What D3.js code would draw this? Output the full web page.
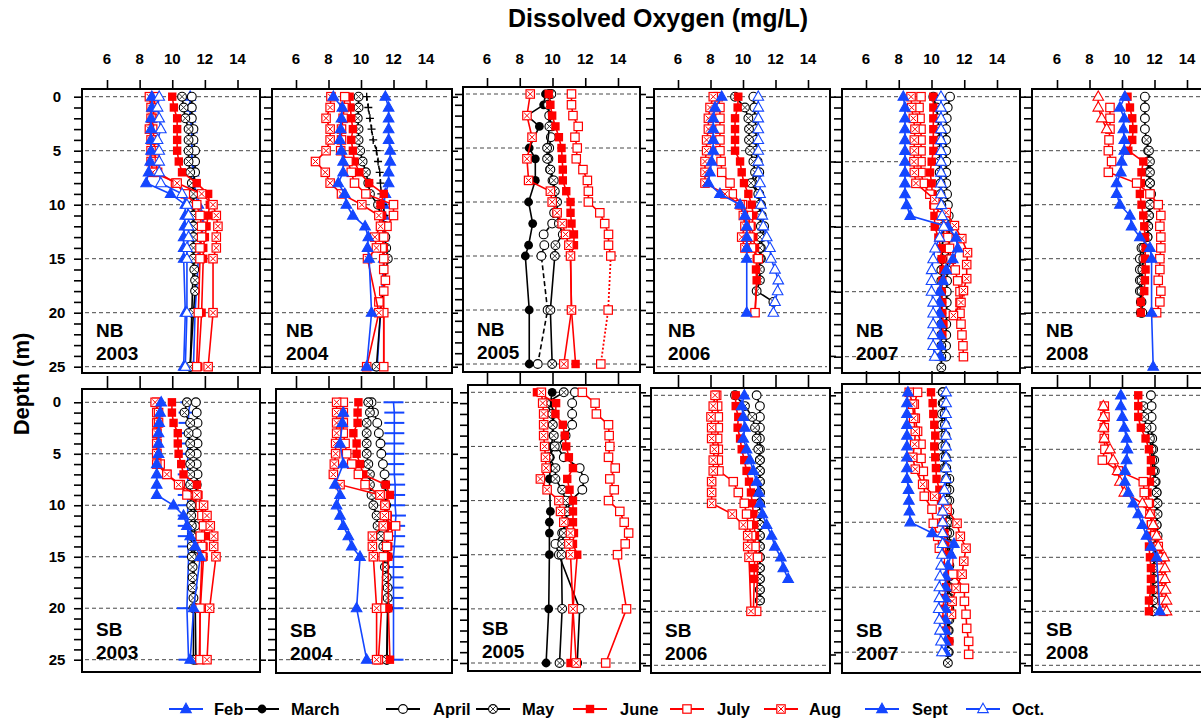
<!DOCTYPE html>
<html><head><meta charset="utf-8">
<script src="https://cdn.jsdelivr.net/npm/d3@7"></script>
<style>body{margin:0;background:#fff}svg{display:block}text{font-family:"Liberation Sans",Arial,sans-serif}</style>
</head><body><svg id="c" width="1201" height="721"></svg>
<script>
// ---------- categories / ticks ----------
const legendMonths = ["Feb","March","April","May","June","July","Aug","Sept","Oct."];
const xTickValues = [6,8,10,12,14];
const depthLabels = [0,5,10,15,20,25];
const titleText = "Dissolved Oxygen (mg/L)";
const yTitleText = "Depth (m)";

// ---------- depth lists (m) ----------
const DEP_STD = [0,1,2,3,4,5,6,7,8,9,10,11,12,13,14,15,20,25];
const DEP_0_18_20_25 = [0,1,2,3,4,5,6,7,8,9,10,11,12,13,14,15,16,17,18,20,25];
const DEP_0_20_25 = [0,1,2,3,4,5,6,7,8,9,10,11,12,13,14,15,16,17,18,19,20,25];
const DEP_0_12 = [0,1,2,3,4,5,6,7,8,9,10,11,12];
const DEP_0_14 = [0,1,2,3,4,5,6,7,8,9,10,11,12,13,14];
const DEP_0_15 = [0,1,2,3,4,5,6,7,8,9,10,11,12,13,14,15];
const DEP_0_15_20 = [0,1,2,3,4,5,6,7,8,9,10,11,12,13,14,15,20];
const DEP_0_17 = [0,1,2,3,4,5,6,7,8,9,10,11,12,13,14,15,16,17];
const DEP_0_17_20 = [0,1,2,3,4,5,6,7,8,9,10,11,12,13,14,15,16,17,20];
const DEP_0_19 = [0,1,2,3,4,5,6,7,8,9,10,11,12,13,14,15,16,17,18,19];
const DEP_0_20 = [0,1,2,3,4,5,6,7,8,9,10,11,12,13,14,15,16,17,18,19,20];
const DEP_0_22 = [0,1,2,3,4,5,6,7,8,9,10,11,12,13,14,15,16,17,18,19,20,21,22];
const DEP_0_23 = [0,1,2,3,4,5,6,7,8,9,10,11,12,13,14,15,16,17,18,19,20,21,22,23];
const DEP_0_24 = [0,1,2,3,4,5,6,7,8,9,10,11,12,13,14,15,16,17,18,19,20,21,22,23,24];
const DEP_0_25 = [0,1,2,3,4,5,6,7,8,9,10,11,12,13,14,15,16,17,18,19,20,21,22,23,24,25];
const DEP_1_20 = [1,2,3,4,5,6,7,8,9,10,11,12,13,14,15,16,17,18,19,20];
const DEP_4_20 = [4,5,6,7,8,9,10,11,12,13,14,15,16,17,18,19,20];

// ---------- DO profiles (mg/L) ----------
const nb2003 = [
 {m:"Feb", d:DEP_STD, v:[11.1,11.1,11.1,11.2,11.2,11.2,11.2,11.3,11.3,11.4,11.6,11.8,11.9,11.8,11.7,11.6,11.4,11.3]},
 {m:"April", d:DEP_STD, v:[11.2,11.2,11.2,11.3,11.3,11.4,11.4,11.4,11.3,11.3,11.3,11.3,11.3,11.3,11.3,11.3,11.2,11.1]},
 {m:"May", d:DEP_0_18_20_25, v:[10.6,10.7,10.8,11.0,11.0,11.0,11.0,11.1,11.2,11.3,11.3,11.3,11.3,11.3,11.3,11.3,11.35,11.4,11.4,11.3,11.1]},
 {m:"June", d:DEP_STD, v:[10.0,10.1,10.3,10.3,10.3,10.3,10.4,10.6,11.5,12.2,12.3,12.2,12.1,12.0,11.9,11.9,11.8,11.6]},
 {m:"July", d:DEP_STD, v:[8.9,8.9,8.8,8.8,8.9,8.9,9.0,9.1,10.2,10.8,11.5,11.7,11.8,11.8,11.7,11.7,11.6,11.5]},
 {m:"Aug", d:DEP_STD, v:[8.6,8.7,8.7,8.6,8.7,8.7,8.7,8.8,10.3,11.8,12.5,12.7,12.8,12.7,12.7,12.5,12.5,12.2]},
 {m:"Sept", d:DEP_STD, v:[8.75,8.75,8.7,8.7,8.7,8.7,8.65,8.55,8.4,9.9,10.8,10.8,10.75,10.7,10.7,10.7,10.8,10.7]},
 {m:"Oct.", d:DEP_STD, v:[9.2,9.1,9.2,9.3,9.1,9.2,9.2,9.2,9.3,10.6,10.9,11.0,11.0,11.0,10.9,10.9,10.9,10.8]}
];
const nb2004 = [
 {m:"Feb", d:DEP_STD, v:[11.5,11.7,11.7,11.7,11.7,11.8,11.8,11.7,11.7,11.5,11.4,11.4,11.4,11.4,11.4,11.4,11.2,11.0]},
 {m:"extraPlus", d:DEP_0_12, v:[10.35,10.45,10.55,10.65,10.75,10.95,11.05,11.15,11.2,11.25,11.35,11.45,11.5]},
 {m:"May", d:DEP_STD, v:[9.85,9.85,9.8,9.85,9.85,9.95,10.1,10.3,10.45,10.55,11.05,11.2,11.5,11.5,11.55,11.65,11.2,10.95]},
 {m:"June", d:DEP_STD, v:[9.3,9.35,9.4,9.5,9.4,9.5,9.6,9.9,10.5,11.4,11.2,11.3,11.3,11.4,11.4,11.4,11.4,11.4]},
 {m:"July", d:DEP_0_20_25, v:[9.0,8.95,8.9,8.8,8.8,8.75,9.2,9.4,9.6,10.3,12.0,12.0,11.6,11.4,11.3,11.4,11.4,11.5,11.4,11.1,11.4,11.4]},
 {m:"Aug", d:DEP_STD, v:[8.15,8.1,7.85,8.1,8.1,7.85,7.2,7.8,8.1,8.8,10.05,11.1,11.2,10.85,10.95,10.4,11.1,10.35]},
 {m:"Sept", d:DEP_STD, v:[8.3,8.85,8.8,8.75,8.7,8.8,8.9,8.9,8.6,9.0,9.1,9.5,10.25,10.45,10.4,10.5,10.65,10.35]}
];
const nb2005 = [
 {m:"March", d:[0,1,2,3,5,6,8,10,12,14,15,20,25], v:[9.57,9.46,8.44,9.2,8.58,8.95,8.95,8.54,8.79,8.54,8.34,8.58,8.58]},
 {m:"April", d:DEP_STD, v:[9.8,9.75,9.8,9.95,9.9,9.8,9.75,9.85,10.0,10.1,10.15,10.1,9.98,9.46,9.5,9.32,9.7,9.1]},
 {m:"May", d:[0,1,3,5,6,7,8,9,10,11,12,13,14,15,20,25], v:[9.93,9.73,9.81,9.67,9.67,9.87,10.08,10.14,10.28,10.28,10.39,10.63,10.18,10.14,9.87,9.98]},
 {m:"June", d:DEP_STD, v:[9.77,9.87,9.98,10.18,10.39,10.55,10.59,10.63,10.63,10.84,11.1,11.1,11.16,11.31,11.31,11.1,11.16,11.41]},
 {m:"July", d:DEP_STD, v:[11.16,11.16,11.25,11.57,11.37,11.51,11.45,11.86,12.13,12.19,12.19,12.89,13.19,13.42,13.42,13.56,13.4,12.95]},
 {m:"Aug", d:[0,2,4,6,8,9,10,11,12,13,14,15,20,25], v:[8.64,8.44,8.75,8.44,8.54,9.87,9.98,10.28,10.59,10.8,11.0,11.1,11.16,10.69]}
];
const nb2006 = [
 {m:"April", d:DEP_0_15, v:[10.64,10.7,10.75,10.8,10.8,10.8,10.9,11.0,10.6,11.0,11.1,11.15,11.3,11.2,11.1,11.1]},
 {m:"May", d:DEP_0_19, v:[9.51,10.12,10.33,10.37,10.37,10.43,10.64,10.74,10.49,10.94,11.04,11.04,11.1,11.04,11.04,11.04,11.04,11.04,10.84,11.87]},
 {m:"June", d:DEP_0_17_20, v:[9.71,9.67,9.51,9.51,9.51,9.51,9.82,9.92,10.06,10.33,10.53,10.64,10.53,10.64,10.74,10.84,10.8,10.84,10.74]},
 {m:"July", d:DEP_0_15_20, v:[8.48,8.58,8.58,8.58,8.58,8.58,8.65,8.69,9.2,9.34,9.96,10.33,10.43,10.43,10.53,10.94,10.74]},
 {m:"Aug", d:DEP_0_14, v:[8.17,7.97,7.87,7.87,7.76,7.76,7.66,7.66,7.66,8.89,9.82,10.02,10.12,9.92,10.12]},
 {m:"Sept", d:DEP_0_15_20, v:[8.69,8.28,8.17,8.17,8.17,8.17,8.07,7.97,7.87,8.58,9.82,10.12,10.23,10.23,10.23,10.23,10.23]},
 {m:"Oct.", d:DEP_0_20, v:[10.94,10.94,10.94,10.94,10.94,10.94,10.94,10.94,11.05,11.05,11.11,11.19,11.25,11.46,11.66,11.72,11.97,12.17,12.13,11.97,11.87]}
];
const nb2007 = [
 {m:"April", d:DEP_0_24, v:[11.13,10.99,10.93,10.89,10.89,10.89,10.9,10.9,10.9,10.95,11.0,11.05,11.05,11.1,11.05,11.0,10.95,10.95,10.93,10.93,10.93,10.9,10.9,10.89,10.89]},
 {m:"May", d:DEP_0_25, v:[10.11,10.3,10.4,10.45,10.5,10.5,10.5,10.5,10.55,10.55,10.6,10.65,10.7,10.7,10.65,10.65,10.6,10.6,10.6,10.6,10.6,10.6,10.6,10.6,10.6,10.6]},
 {m:"June", d:DEP_0_22, v:[10.11,10.11,10.11,10.11,10.11,10.11,10.01,9.91,10.01,10.05,10.11,10.18,10.2,10.42,10.58,10.62,10.73,10.66,10.62,10.66,10.66,10.73,10.66]},
 {m:"July", d:DEP_0_24, v:[9.36,9.24,9.3,9.36,9.36,9.36,9.36,9.36,9.5,9.9,10.2,10.6,10.9,11.0,11.1,11.2,11.45,11.6,11.74,11.74,11.74,11.8,11.86,11.92,11.95]},
 {m:"Aug", d:[0,1,2,3,4,5,6,7,8,9.5,10.7,11.9,13.1,14.4,15.5,16.8,17.9,19,20.2], v:[8.75,8.79,8.89,8.99,8.95,8.95,8.93,8.95,9.05,10.2,10.9,11.4,11.85,12.2,12.15,12.15,11.95,11.8,11.34]},
 {m:"Sept", d:DEP_0_24, v:[8.28,8.38,8.38,8.38,8.38,8.38,8.38,8.38,8.38,8.38,8.48,8.7,11.0,11.5,11.6,11.3,10.9,10.7,10.5,10.5,10.5,10.55,10.55,10.55,10.55]},
 {m:"Oct.", d:DEP_0_24, v:[10.58,10.58,10.58,10.58,10.58,10.58,10.58,10.58,10.58,10.58,10.6,10.65,10.75,10.5,10.22,10.1,10.01,10.0,10.0,10.1,10.1,10.1,10.1,10.1,10.2]}
];
const nb2008 = [
 {m:"April", d:DEP_0_20, v:[11.41,11.41,11.41,11.41,11.51,11.61,11.61,11.61,11.72,11.78,11.72,11.66,11.61,11.57,11.2,11.1,11.1,11.1,11.1,11.16,11.16]},
 {m:"May", d:DEP_4_20, v:[11.51,11.66,11.72,11.72,11.72,11.78,11.72,11.66,11.61,11.57,11.31,11.31,11.25,11.2,11.2,11.2,11.25]},
 {m:"June", d:DEP_0_20, v:[10.34,10.49,10.63,10.69,10.63,10.39,11.31,11.2,11.16,11.1,11.2,11.31,11.37,11.41,11.45,11.41,11.45,11.41,11.37,11.16,11.16]},
 {m:"July", d:DEP_1_20, v:[9.26,9.26,9.26,9.2,9.16,9.36,9.16,10.9,11.72,12.23,12.39,12.33,12.39,12.39,12.33,12.33,12.23,12.39,12.33,12.13]},
 {m:"extraTri", d:[0,1,2,3], v:[8.54,8.54,8.75,9.06]},
 {m:"Sept", d:DEP_STD, v:[10.18,9.87,10.14,10.08,10.14,10.14,9.98,9.93,9.67,9.67,9.87,10.49,10.59,11.1,11.72,11.82,11.82,11.92]}
];
const sb2003 = [
 {m:"Feb", d:DEP_STD, v:[11.1,11.0,11.0,11.0,10.95,10.95,10.95,10.95,10.95,10.95,10.95,10.95,10.95,10.95,10.95,11.0,10.9,11.0]},
 {m:"April", d:DEP_STD, v:[11.45,11.5,11.55,11.5,11.55,11.5,11.5,11.55,11.5,11.45,11.4,11.4,11.4,11.35,11.35,11.35,11.3,11.3]},
 {m:"May", d:DEP_0_20_25, v:[10.9,10.75,11.1,11.0,11.1,11.1,11.1,11.1,11.1,11.1,11.16,11.16,11.2,11.2,11.2,11.2,11.25,11.25,11.25,11.3,11.41,11.45]},
 {m:"June", d:DEP_STD, v:[9.98,9.98,10.08,10.34,10.34,10.39,10.55,10.69,11.51,11.61,11.82,11.92,11.92,12.02,11.92,11.92,11.72,11.66]},
 {m:"July", d:DEP_STD, v:[9.05,9.05,9.05,9.05,9.05,9.05,9.26,9.67,10.49,10.9,11.72,11.82,11.92,11.72,11.82,11.82,11.7,11.7]},
 {m:"Aug", d:DEP_STD, v:[8.95,9.16,9.16,9.05,9.05,9.05,9.05,9.67,10.39,11.51,11.92,12.13,12.33,12.54,12.54,12.68,12.29,12.13]},
 {m:"Sept", d:DEP_STD, v:[9.32,9.26,9.2,9.16,9.16,9.16,9.05,9.05,9.05,9.05,10.08,10.69,10.9,11.1,11.41,11.72,11.31,11.1]}
];
const sb2004 = [
 {m:"Feb", d:DEP_0_20_25, v:[12.0,12.05,12.05,12.05,12.05,12.05,12.05,12.05,12.1,12.1,12.1,12.15,12.1,12.1,12.05,12.0,12.0,12.0,12.0,12.0,12.0,12.0]},
 {m:"April", d:DEP_STD, v:[10.65,10.8,11.0,11.1,11.2,11.25,11.35,11.45,11.5,11.5,11.55,11.6,11.6,11.6,11.6,11.65,11.65,11.6]},
 {m:"May", d:DEP_0_20_25, v:[10.45,10.55,10.35,10.35,10.35,10.35,10.45,10.55,10.55,10.65,10.76,10.96,11.02,11.23,11.37,11.43,11.47,11.58,11.64,11.64,11.64,11.58]},
 {m:"June", d:DEP_STD, v:[9.84,9.79,9.79,9.53,9.73,9.73,9.94,10.14,11.52,11.78,11.48,11.64,11.68,11.68,11.68,11.68,11.68,11.78]},
 {m:"July", d:DEP_STD, v:[8.91,8.91,8.91,8.91,9.02,9.12,9.43,9.84,10.25,11.17,11.48,11.58,12.13,11.68,11.58,11.37,11.27,11.07]},
 {m:"Aug", d:DEP_STD, v:[8.5,8.5,8.5,8.5,8.44,8.44,8.36,8.3,8.71,11.17,11.48,11.44,11.37,10.7,10.7,10.76,10.96,10.96]},
 {m:"Sept", d:[1,2,4,6,8,9,10,11,12,13,14,15,20,25], v:[8.91,8.85,8.71,8.91,8.4,8.71,8.5,8.71,8.91,9.22,9.43,9.94,9.73,10.35]}
];
const sb2005 = [
 {m:"March", d:[0,1,2,3,4,5,6,7,8,11,12,13,15,20,25], v:[9.98,9.87,10.14,9.98,10.02,9.93,9.87,9.87,9.81,9.87,9.81,9.81,9.81,9.77,9.61]},
 {m:"April", d:DEP_STD, v:[11.37,11.2,11.2,11.2,10.8,10.28,10.69,11.66,11.92,11.82,11.1,10.9,10.8,10.59,10.18,10.39,11.66,11.51]},
 {m:"May", d:DEP_STD, v:[10.69,9.61,9.98,10.02,10.08,10.14,9.77,10.18,10.18,10.59,10.8,10.9,10.8,10.69,10.59,10.55,10.59,10.43]},
 {m:"June", d:DEP_STD, v:[9.05,10.22,10.18,10.63,10.75,10.84,11.0,11.25,10.9,11.04,11.25,11.25,11.25,11.31,11.25,11.51,11.25,11.1]},
 {m:"July", d:DEP_STD, v:[11.82,12.6,12.68,13.42,13.46,13.5,13.42,13.83,13.5,13.77,13.42,14.11,14.38,14.65,14.44,13.97,14.52,13.25]},
 {m:"Aug", d:DEP_STD, v:[9.32,9.4,9.46,9.46,9.46,9.52,9.57,9.61,9.26,9.67,10.39,10.49,10.69,11.1,11.0,11.1,11.25,11.45]}
];
const sb2006 = [
 {m:"April", d:DEP_0_19, v:[10.84,11.04,11.04,11.04,11.04,11.04,11.04,11.04,11.04,11.04,11.04,11.04,11.04,11.04,11.04,11.04,11.04,11.04,11.04,11.04]},
 {m:"May", d:DEP_0_19, v:[9.51,10.12,10.57,10.74,10.84,10.94,11.04,11.04,11.04,11.04,11.04,11.04,11.04,11.04,11.04,11.04,11.04,11.04,11.04,11.04]},
 {m:"June", d:DEP_0_17_20, v:[9.55,9.55,9.71,9.67,9.82,9.92,10.08,10.22,10.37,10.49,10.57,10.64,10.69,10.74,10.74,10.74,10.69,10.69,10.64]},
 {m:"July", d:DEP_0_15_20, v:[8.38,8.44,8.48,8.48,8.44,8.48,8.48,8.52,9.4,9.71,10.08,10.22,10.33,10.53,10.74,10.9,10.84]},
 {m:"Aug", d:DEP_0_15_20, v:[8.28,8.17,8.03,8.07,8.07,8.24,8.17,8.17,8.07,8.07,8.07,9.34,10.02,10.29,10.29,10.37,10.49]},
 {m:"Sept", d:DEP_0_17, v:[10.08,9.92,10.02,10.12,10.02,10.22,10.43,10.64,10.84,10.98,11.04,11.19,11.45,11.76,11.96,12.33,12.48,12.78]}
];
const sb2007 = [
 {m:"April", d:DEP_0_24, v:[10.68,10.68,10.64,10.64,10.64,10.68,10.72,10.79,11.09,11.09,11.09,11.09,11.09,11.09,11.09,11.09,11.09,11.09,11.09,11.09,11.09,11.09,11.05,11.05,11.05]},
 {m:"May", d:DEP_0_25, v:[10.7,10.75,10.8,10.82,10.85,10.85,10.87,10.9,10.9,10.92,10.95,10.95,10.95,10.95,10.98,10.98,11.0,11.0,11.0,11.0,11.0,11.0,11.0,11.0,11.0,11.0]},
 {m:"June", d:DEP_0_23, v:[9.97,10.07,10.11,10.17,10.23,10.17,10.23,10.27,10.31,10.48,10.58,10.68,10.68,10.79,10.85,10.89,10.93,10.99,10.89,10.79,10.68,10.72,10.89,11.09]},
 {m:"July", d:[0,1.1,2.4,3.6,4.8,6.1,7.3,8.5,9.6,10.8,12.1,13.3,14.4,15.6,16.8,18.1,19.3,20.5,21.8,23,24.2], v:[9.15,8.95,9.01,9.15,9.36,9.36,9.5,9.56,9.56,10.03,10.11,10.38,10.48,11.05,11.3,12.01,12.01,12.11,12.15,12.27,12.27]},
 {m:"Aug", d:[0,1.1,2.4,3.6,4.8,6.0,7.1,8.5,9.6,10.8,12.1,13.3,14.4,15.6,16.8,18.1,19.3,20.5], v:[8.64,8.85,8.91,9.01,8.97,8.85,9.01,9.46,10.19,10.95,11.56,11.76,12.11,11.97,11.87,11.5,11.26,11.22]},
 {m:"Sept", d:DEP_0_24, v:[8.56,8.5,8.5,8.5,8.5,8.5,8.5,8.5,8.5,8.6,8.62,8.65,8.7,10.04,11.37,11.2,11.0,10.86,10.86,10.86,10.86,10.86,10.86,10.86,10.86]},
 {m:"Oct.", d:DEP_0_24, v:[10.89,10.89,10.89,10.89,10.89,10.89,10.89,10.89,10.89,10.79,10.72,10.68,10.68,10.68,10.68,10.64,10.58,10.52,10.48,10.48,10.44,10.48,10.52,10.58,10.64]}
];
const sb2008 = [
 {m:"April", d:DEP_0_20, v:[11.78,11.82,11.82,11.82,11.86,11.92,11.98,12.02,12.07,12.13,12.13,12.13,12.13,12.07,12.02,11.98,11.94,11.94,11.92,11.92,11.92]},
 {m:"May", d:DEP_1_20, v:[11.31,11.37,11.51,11.72,11.82,11.86,11.92,12.02,12.13,12.19,12.19,12.13,12.19,12.13,12.02,11.98,11.92,11.92,11.92,11.92]},
 {m:"June", d:DEP_0_20, v:[11.0,11.0,11.0,11.16,11.45,11.66,11.78,11.78,11.72,11.57,11.72,11.78,11.78,11.78,11.66,11.72,11.78,11.78,11.78,11.66,11.66]},
 {m:"July", d:DEP_1_20, v:[8.91,8.95,8.91,8.91,8.95,8.79,9.77,11.31,11.37,11.61,11.72,11.82,12.02,12.23,12.43,12.43,12.48,12.43,12.48,12.54]},
 {m:"extraTri", d:DEP_1_20, v:[8.85,8.85,8.85,8.91,9.26,9.46,9.73,9.87,10.14,11.25,11.72,11.92,12.13,12.23,12.6,12.64,12.64,12.68,12.74,12.74]},
 {m:"Sept", d:DEP_0_15_20, v:[9.93,9.93,10.02,10.14,10.28,10.34,10.28,10.18,10.18,10.39,10.69,11.0,11.25,11.51,11.78,12.13,12.33]}
];

// ---------- panels ----------
const panels = [
 {site:"NB", year:"2003", data:nb2003},{site:"NB", year:"2004", data:nb2004},{site:"NB", year:"2005", data:nb2005},
 {site:"NB", year:"2006", data:nb2006},{site:"NB", year:"2007", data:nb2007},{site:"NB", year:"2008", data:nb2008},
 {site:"SB", year:"2003", data:sb2003},{site:"SB", year:"2004", data:sb2004},{site:"SB", year:"2005", data:sb2005},
 {site:"SB", year:"2006", data:sb2006},{site:"SB", year:"2007", data:sb2007},{site:"SB", year:"2008", data:sb2008}
];

// ---------- layout (pixels) ----------
const layout = [
 {box:[82,89,260,373], xr:[107,237.5], yr:[96.7,366.7], grid:5, rt:5},
 {box:[272,89,452,373], xr:[296,426], yr:[96.7,366.7], grid:5, rt:5},
 {box:[463,87,640,372], xr:[487,618], yr:[94,364], grid:5, rt:5},
 {box:[654,89,830,373], xr:[678,808], yr:[96.7,366.7], grid:5, rt:6},
 {box:[842,89,1020,373], xr:[866,997], yr:[96.7,367.5], grid:6, rt:5},
 {box:[1032,89,1215,373], xr:[1057,1187], yr:[96.7,366.7], grid:5, rt:5},
 {box:[82,389,260,672], xr:[107,237.5], yr:[402.3,659.7], grid:5, rt:5},
 {box:[276,389,452,673], xr:[296,426], yr:[402.3,659.7], grid:5, rt:5},
 {box:[468,385,640,671], xr:[487,618], yr:[392.3,663], grid:5, rt:5},
 {box:[651,388,830,673], xr:[678,808], yr:[395.3,665.3], grid:5, rt:6},
 {box:[842,384,1020,673], xr:[866,997], yr:[392.3,663], grid:6, rt:5},
 {box:[1032,388,1215,672], xr:[1057,1187], yr:[395.3,665.3], grid:5, rt:5}
];

const RED="#ff0000", BLUE="#1446ff", BLACK="#000000";
const styleOf = {
 "Feb":{color:BLUE, marker:"triF"},
 "March":{color:BLACK, marker:"cirF"},
 "April":{color:BLACK, marker:"cirO"},
 "May":{color:BLACK, marker:"cirX"},
 "June":{color:RED, marker:"sqF"},
 "July":{color:RED, marker:"sqO"},
 "Aug":{color:RED, marker:"sqX"},
 "Sept":{color:BLUE, marker:"triF"},
 "Oct.":{color:BLUE, marker:"triO"},
 "extraPlus":{color:BLACK, marker:"plus", dash:"4,3"},
 "extraTri":{color:RED, marker:"triO"}
};
const overrides = {
 "NB 2005|April":{dash:"5,3"},
 "NB 2005|July":{dottedBelow:15},
 "SB 2003|Feb":{marker:"bar"},
 "SB 2004|Feb":{marker:"bar"}
};

const svg = d3.select("#c");

function drawMarker(g, type, color, cx, cy){
 if(type==="triF"||type==="triO"){
  g.append("path").attr("d",`M${cx},${cy-5.8}L${cx+5.3},${cy+3.6}L${cx-5.3},${cy+3.6}Z`)
   .attr("fill",type==="triF"?color:"#fff").attr("stroke",color).attr("stroke-width",1.1);
 } else if(type==="cirF"){
  g.append("circle").attr("cx",cx).attr("cy",cy).attr("r",4.4).attr("fill",color);
 } else if(type==="cirO"||type==="cirX"){
  g.append("circle").attr("cx",cx).attr("cy",cy).attr("r",4.4).attr("fill","#fff").attr("stroke",color).attr("stroke-width",1.1);
  if(type==="cirX"){
   g.append("path").attr("d",`M${cx-3},${cy-3}L${cx+3},${cy+3}M${cx+3},${cy-3}L${cx-3},${cy+3}`).attr("stroke","#333").attr("stroke-width",1);
  }
 } else if(type==="sqF"){
  g.append("rect").attr("x",cx-4.2).attr("y",cy-4.2).attr("width",8.4).attr("height",8.4).attr("fill",color);
 } else if(type==="sqO"||type==="sqX"){
  g.append("rect").attr("x",cx-4.2).attr("y",cy-4.2).attr("width",8.4).attr("height",8.4).attr("fill","#fff").attr("stroke",color).attr("stroke-width",1.2);
  if(type==="sqX"){
   g.append("path").attr("d",`M${cx-2.8},${cy-2.8}L${cx+2.8},${cy+2.8}M${cx+2.8},${cy-2.8}L${cx-2.8},${cy+2.8}`).attr("stroke",color).attr("stroke-width",1);
  }
 } else if(type==="plus"){
  g.append("path").attr("d",`M${cx-4},${cy}L${cx+4},${cy}M${cx},${cy-4}L${cx},${cy+4}`).attr("stroke",color).attr("stroke-width",1.3);
 } else if(type==="bar"){
  g.append("path").attr("d",`M${cx-10},${cy}L${cx+10},${cy}`).attr("stroke",color).attr("stroke-width",2);
 }
}

panels.forEach((p,i)=>{
 const L = layout[i];
 const key = p.site+" "+p.year;
 const x = d3.scaleLinear().domain([6,14]).range(L.xr);
 const y = d3.scaleLinear().domain([0,25]).range(L.yr);
 const [bx0,by0,bx1,by1] = L.box;
 const g = svg.append("g");
 const gridD = L.grid===6 ? [0,6,12,18,24] : [0,5,10,15,20,25];
 g.selectAll("line.grid").data(gridD).join("line").attr("class","grid")
  .attr("x1",bx0+3).attr("x2",bx1-3).attr("y1",d=>y(d)).attr("y2",d=>y(d))
  .attr("stroke","#333").attr("stroke-width",0.9).attr("stroke-dasharray","4,3");
 p.data.forEach(s=>{
  const st = Object.assign({}, styleOf[s.m], overrides[key+"|"+s.m]||{});
  const n = Math.min(s.d.length, s.v.length);
  const pts = d3.range(n).map(k=>[s.v[k], s.d[k]]);
  const line = d3.line().x(d=>x(d[0])).y(d=>y(d[1]));
  const sg = g.append("g");
  if(st.dottedBelow!==undefined){
   const upper = pts.filter(d=>d[1]<=st.dottedBelow), lower = pts.filter(d=>d[1]>=st.dottedBelow);
   sg.append("path").attr("d",line(upper)).attr("fill","none").attr("stroke",st.color).attr("stroke-width",1.6);
   sg.append("path").attr("d",line(lower)).attr("fill","none").attr("stroke",st.color).attr("stroke-width",1.8).attr("stroke-dasharray","2,2");
  } else {
   sg.append("path").attr("d",line(pts)).attr("fill","none").attr("stroke",st.color).attr("stroke-width",1.6)
     .attr("stroke-dasharray",st.dash||null);
  }
  pts.forEach(d=>drawMarker(sg, st.marker, st.color, x(d[0]), y(d[1])));
 });
 g.append("rect").attr("x",bx0).attr("y",by0).attr("width",bx1-bx0).attr("height",by1-by0)
  .attr("fill","none").attr("stroke","#000").attr("stroke-width",2);
 const topAx = d3.axisTop(x).tickValues(xTickValues).tickSize(i<6?9:13).tickFormat("");
 const ta = g.append("g").attr("transform",`translate(0,${by0})`).call(topAx);
 ta.select(".domain").remove(); ta.selectAll("line").attr("stroke-width",1.6);
 const leftAx = d3.axisLeft(y).tickValues(d3.range(0,26)).tickSize(8).tickFormat("");
 const la = g.append("g").attr("transform",`translate(${bx0},0)`).call(leftAx);
 la.select(".domain").remove(); la.selectAll("line").attr("stroke-width",1.6);
 const rtv = L.rt===6 ? [0,6,12,18,24] : [0,5,10,15,20,25];
 const rightAx = d3.axisRight(y).tickValues(rtv).tickSize(6).tickFormat("");
 const ra = g.append("g").attr("transform",`translate(${bx1},0)`).call(rightAx);
 ra.select(".domain").remove(); ra.selectAll("line").attr("stroke-width",1.6);
 const lbl = g.append("text").attr("font-size",19).attr("font-weight","bold").attr("fill","#000");
 lbl.append("tspan").attr("x",bx0+14).attr("y",by1-36).text(p.site);
 lbl.append("tspan").attr("x",bx0+14).attr("y",by1-13).text(p.year);
 if(i<6){
  svg.append("g").selectAll("text").data(xTickValues).join("text")
   .attr("x",d=>x(d)).attr("y",64).attr("text-anchor","middle")
   .attr("font-size",15).attr("font-weight","bold").text(d=>d);
 }
 if(i===0||i===6){
  svg.append("g").selectAll("text").data(depthLabels).join("text")
   .attr("x",57).attr("y",d=>y(d)+5).attr("text-anchor","middle")
   .attr("font-size",15).attr("font-weight","bold").text(d=>d);
 }
});

svg.append("text").attr("x",658).attr("y",27).attr("text-anchor","middle")
 .attr("font-size",25).attr("font-weight","bold").text(titleText);
svg.append("text").attr("transform","translate(29,384) rotate(-90)").attr("text-anchor","middle")
 .attr("font-size",22).attr("font-weight","bold").text(yTitleText);

// legend: marker centre and label start
const legendX = [186,262,403,493,590,687,781,882,983];
const legendTextX = [214,291,433,522,620,717,809,912,1012];
const lg = svg.append("g");
legendMonths.forEach((m,k)=>{
 const st = styleOf[m];
 const cx = legendX[k], cy = 709;
 lg.append("line").attr("x1",cx-17).attr("x2",cx+17).attr("y1",cy).attr("y2",cy).attr("stroke",st.color).attr("stroke-width",1.8);
 drawMarker(lg, st.marker, st.color, cx, cy);
 lg.append("text").attr("x",legendTextX[k]).attr("y",cy+6).attr("font-size",16.5).attr("font-weight","bold").text(m);
});
</script></body></html>
